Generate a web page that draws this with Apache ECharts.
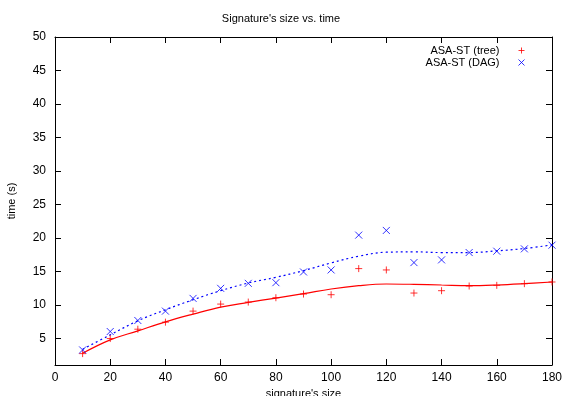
<!DOCTYPE html>
<html>
<head>
<meta charset="utf-8">
<script src="https://cdn.jsdelivr.net/npm/echarts@6/dist/echarts.min.js"></script>
<style>
  html, body { margin: 0; padding: 0; background: #fff; }
  #chart { width: 562px; height: 396px; }
</style>
</head>
<body>
<div id="chart"></div>
<script>
const sizes = [10, 20, 30, 40, 50, 60, 70, 80, 90, 100, 110, 120, 130, 140, 150, 160, 170, 180];
const treeTimes = [2.7, 4.95, 6.35, 7.4, 9.05, 10.1, 10.4, 11.05, 11.6, 11.5, 15.4, 15.2, 11.75, 12.1, 12.8, 12.9, 13.15, 13.4];
const dagTimes = [3.25, 6.0, 7.65, 9.05, 10.95, 12.45, 13.2, 13.3, 14.9, 15.2, 20.4, 21.1, 16.3, 16.7, 17.8, 18.0, 18.35, 18.9];
// fitted curves
const treeFit = [2.75, 4.75, 6.1, 7.45, 8.6, 9.65, 10.35, 11.0, 11.65, 12.35, 12.85, 13.1, 13.05, 12.95, 12.85, 12.95, 13.15, 13.4];
const dagFit = [3.35, 5.5, 7.6, 9.25, 10.75, 12.1, 13.25, 14.1, 15.1, 16.25, 17.25, 17.85, 17.9, 17.8, 17.8, 18.05, 18.4, 18.95];
const yTicks = [5, 10, 15, 20, 25, 30, 35, 40, 45, 50];

const font = 'Liberation Sans, Arial, sans-serif';
const pair = (xs, ys) => xs.map((x, i) => [x, ys[i]]);

const plusPath = 'path://M0,5L10,5M5,0L5,10';
const crossPath = 'path://M0,0L10,10M10,0L0,10';

const chart = echarts.init(document.getElementById('chart'));

const xBase = {
  type: 'value',
  min: 0,
  max: 180,
  interval: 20,
  axisLine: { show: true, onZero: false, lineStyle: { color: '#000', width: 1 } },
  axisTick: { show: true, inside: true, length: 6, lineStyle: { color: '#000' } },
  splitLine: { show: false }
};
const yBase = {
  type: 'value',
  min: 1,
  max: 50,
  axisLine: { show: true, onZero: false, lineStyle: { color: '#000', width: 1 } },
  axisTick: { show: true, inside: true, length: 6, customValues: yTicks, lineStyle: { color: '#000' } },
  splitLine: { show: false }
};

chart.setOption({
  animation: false,
  backgroundColor: '#fff',
  textStyle: { fontFamily: font },
  title: {
    text: "Signature's size vs. time",
    left: 'center',
    top: 8,
    textStyle: { fontFamily: font, fontSize: 11, fontWeight: 'normal', color: '#000' }
  },
  legend: {
    right: 30,
    top: 40,
    orient: 'vertical',
    align: 'right',
    itemGap: 1,
    itemWidth: 6,
    itemHeight: 6,
    itemStyle: { borderWidth: 1 },
    data: ['ASA-ST (tree)', 'ASA-ST (DAG)'],
    textStyle: { fontFamily: font, fontSize: 11, color: '#000', padding: [0, 14, 0, 0] }
  },
  grid: { left: 55, right: 10, top: 37, bottom: 31, outerBoundsMode: 'none' },
  xAxis: [
    Object.assign({}, xBase, {
      position: 'bottom',
      name: "signature's size",
      nameLocation: 'middle',
      nameGap: 22,
      nameTextStyle: { fontFamily: font, fontSize: 11, color: '#000' },
      axisLabel: { color: '#000', fontFamily: font, fontSize: 12, margin: 7 }
    }),
    Object.assign({}, xBase, { position: 'top', axisLabel: { show: false } })
  ],
  yAxis: [
    Object.assign({}, yBase, {
      position: 'left',
      name: 'time (s)',
      nameLocation: 'middle',
      nameGap: 38,
      nameTextStyle: { fontFamily: font, fontSize: 11, color: '#000' },
      axisLabel: { color: '#000', fontFamily: font, fontSize: 12, margin: 9, customValues: yTicks }
    }),
    Object.assign({}, yBase, { position: 'right', axisLabel: { show: false } })
  ],
  series: [
    {
      name: 'tree fit',
      type: 'line',
      data: pair(sizes, treeFit),
      smooth: 0.4,
      showSymbol: false,
      lineStyle: { color: '#ff0000', width: 1.2 },
      z: 2
    },
    {
      name: 'DAG fit',
      type: 'line',
      data: pair(sizes, dagFit),
      smooth: 0.4,
      showSymbol: false,
      lineStyle: { color: '#0000ff', width: 1.2, type: [2, 3] },
      z: 2
    },
    {
      name: 'ASA-ST (tree)',
      type: 'scatter',
      data: pair(sizes, treeTimes),
      symbol: plusPath,
      symbolSize: 7,
      itemStyle: { color: 'none', borderColor: '#ff0000', borderWidth: 1 },
      z: 3
    },
    {
      name: 'ASA-ST (DAG)',
      type: 'scatter',
      data: pair(sizes, dagTimes),
      symbol: crossPath,
      symbolSize: 7,
      itemStyle: { color: 'none', borderColor: '#0000ff', borderWidth: 1 },
      z: 3
    }
  ]
});
</script>
</body>
</html>
